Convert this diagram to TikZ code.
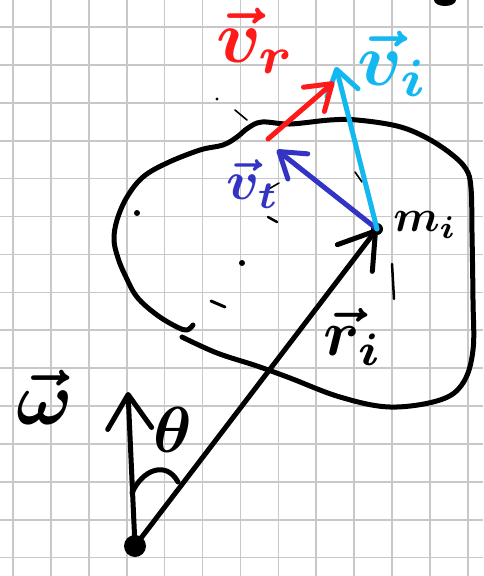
\documentclass[tikz,border=0pt]{standalone}
\usetikzlibrary{arrows.meta}
\definecolor{gridgray}{HTML}{C8C8C8}
\definecolor{vrred}{HTML}{FF1A1A}
\definecolor{vilight}{HTML}{14B8F0}
\definecolor{vtdark}{HTML}{3434C4}
\tikzset{
  gridline/.style={draw=gridgray, line width=1.6pt},
  pen/.style={line width=5pt, line cap=round, line join=round},
  bigbarb/.style={-{Straight Barb[length=34pt, width=44pt, round]}},
  smallbarb/.style={-{Straight Barb[length=24pt, width=32pt, round]}},
  speck/.style={line width=1.6pt, line cap=round},
  lab/.style={inner sep=0pt, scale=#1, font=\boldmath}
}
\begin{document}
\begin{tikzpicture}[x=1pt, y=-1pt]
  \useasboundingbox (0,0) rectangle (483,576);
  \fill[white] (0,0) rectangle (483,576);
  % squared paper
  \foreach \k in {0,...,12}
    \draw[gridline] ({13+37.9*\k},0) -- ++(0,576);
  \foreach \k in {0,...,14}
    \draw[gridline] (0,{27+37.9*\k}) -- ++(483,0);

  \coordinate (O) at (135,546);
  \coordinate (wTip) at (128,392);
  \coordinate (mi) at (377,229);
  \coordinate (vtTip) at (277,150);
  \coordinate (vrTail) at (268,139);
  \coordinate (vrTip) at (334,82);
  \coordinate (viTip) at (336,67);

  % the body
  \draw[pen] plot[smooth, tension=0.6] coordinates {
    (182,337) (217,353) (257,366) (290,378) (340,397) (390,407) (440,400)
    (463,383) (473,350) (473,300) (472,233) (471,188) (466,169) (450,153)
    (425,137) (397,126) (357,120) (330,120) (290,124) (262,122) (248,128)
    (237,137) (223,145) (200,150) (167,163) (143,177) (127,197) (117,220)
    (114,240) (118,258) (125,275) (137,297) (157,315) (177,327) (187,330)
    (193,325)};

  % stray marks
  \fill (137,213) circle (3);
  \fill (242,263) circle (3);
  \fill (217,99) circle (1.6);
  \draw[speck, line width=3pt] (211,301) -- (225,307);
  \draw[speck, line width=2.5pt] (392,264) -- (394,299);
  \draw[speck] (267,190) -- (279,183);
  \draw[speck, line width=2.5pt] (268,217) -- (277,222);
  \draw[speck] (355,172) -- (362,182);
  \draw[speck] (235,110) -- (247,120);
  \fill (445,0) ellipse (11 and 6);

  % axis and position
  \draw[pen, bigbarb] (O) -- (wTip);
  \draw[pen, bigbarb] (O) -- (mi);
  \draw[pen] (132,493) .. controls (142,470) and (166,460) .. (178,482);
  \fill (O) circle (11);
  \fill (mi) circle (6);

  % velocities
  \draw[pen, vtdark, smallbarb] (mi) -- (vtTip);
  \draw[pen, vilight, smallbarb] (mi) -- (viTip);
  \draw[pen, vrred, smallbarb] (vrTail) -- (vrTip);

  % labels
  \node[lab=7.5] (wLabel) at (45,397) {$\vec{\omega}$};
  \node[lab=6.5] (thetaLabel) at (173,430) {$\theta$};
  \node[lab=6.5] (riLabel) at (353,337) {$\vec{r}_i$};
  \node[lab=4.5] (miLabel) at (425,225) {$m_i$};
  \node[lab=7.5, vrred] (vrLabel) at (256,41) {$\vec{v}_r$};
  \node[lab=7.5, vilight] (viLabel) at (393,64) {$\vec{v}_i$};
  \node[lab=5.5, vtdark] (vtLabel) at (253,184) {$\vec{v}_t$};
\end{tikzpicture}
\end{document}
